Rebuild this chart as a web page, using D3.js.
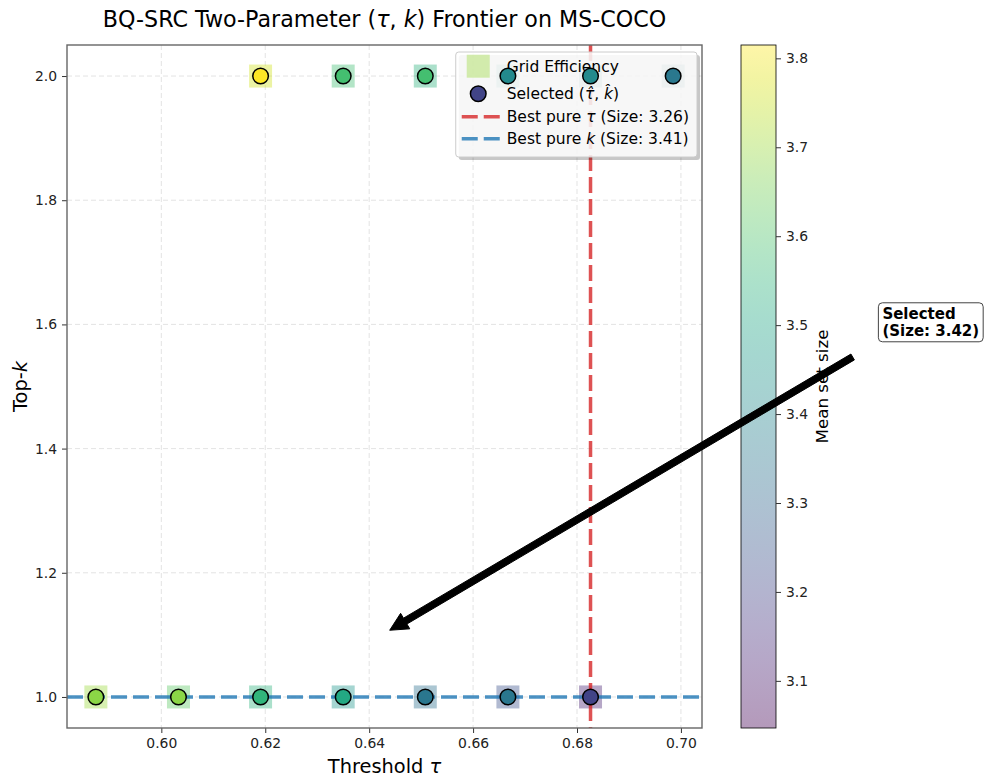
<!DOCTYPE html>
<html>
<head>
<meta charset="utf-8">
<script src="https://cdn.jsdelivr.net/npm/d3@7"></script>
<style>
  body { margin: 0; background: #fff; }
  text { font-family: "DejaVu Sans", sans-serif; }
</style>
</head>
<body>
<svg id="chart"></svg>
<script>
// (tau, k) grid evaluated on MS-COCO
const gridTau = [0.5874, 0.6033, 0.6191, 0.6350, 0.6508, 0.6667, 0.6826,
                 0.6191, 0.6350, 0.6508, 0.6667, 0.6826, 0.6985];
const gridK = [1, 1, 1, 1, 1, 1, 1,
               2, 2, 2, 2, 2, 2];
// mean set size behind each square (grid efficiency)
const gridSize = [3.70, 3.62, 3.54, 3.45, 3.33, 3.24, 3.12,
                  3.76, 3.58, 3.54, 3.45, 3.42, 3.37];
// mean set size of each evaluated point (circles)
const pointSize = [3.68, 3.68, 3.55, 3.51, 3.35, 3.35, 3.20,
                   3.815, 3.585, 3.585, 3.41, 3.41, 3.355];
const selectedIdx = 6;
const selectedSize = 3.42;
const bestPureTau = 0.6826, bestPureTauSize = 3.26;
const bestPureK = 1, bestPureKSize = 3.41;
const sizeRange = [3.047, 3.815];

const xTicks = [0.60, 0.62, 0.64, 0.66, 0.68, 0.70];
const yTicks = [1.0, 1.2, 1.4, 1.6, 1.8, 2.0];
const cbTicks = [3.1, 3.2, 3.3, 3.4, 3.5, 3.6, 3.7, 3.8];

// annotation: arrow target and text anchor, in data units
const annotTarget = [0.639, 1.083];
const annotAnchor = [0.738, 1.572];

const width = 986, height = 778;
const margin = {left: 67, right: 284, top: 45, bottom: 50};
const x0 = margin.left, x1 = width - margin.right;
const y0 = margin.top, y1 = height - margin.bottom;

const svg = d3.select("#chart")
    .attr("width", width)
    .attr("height", height);

// 5% padding like matplotlib autoscale
const tauExt = d3.extent(gridTau), kExt = d3.extent(gridK);
const tauPad = (tauExt[1] - tauExt[0]) * 0.05, kPad = (kExt[1] - kExt[0]) * 0.05;

const x = d3.scaleLinear()
    .domain([tauExt[0] - tauPad, tauExt[1] + tauPad])
    .range([x0, x1]);
const y = d3.scaleLinear()
    .domain([kExt[0] - kPad, kExt[1] + kPad])
    .range([y1, y0]);
const color = d3.scaleSequential(d3.interpolateViridis).domain(sizeRange);

const data = gridTau.map((t, i) => ({tau: t, k: gridK[i], size: gridSize[i], psize: pointSize[i]}));

// grid lines
const grid = svg.append("g").attr("class", "grid");
grid.selectAll("line.gx")
    .data(xTicks)
    .enter()
    .append("line")
    .attr("x1", d => x(d)).attr("x2", d => x(d))
    .attr("y1", y0).attr("y2", y1)
    .attr("stroke", "#b0b0b0").attr("stroke-opacity", 0.45)
    .attr("stroke-width", 0.8).attr("stroke-dasharray", "5,3");
grid.selectAll("line.gy")
    .data(yTicks)
    .enter()
    .append("line")
    .attr("x1", x0).attr("x2", x1)
    .attr("y1", d => y(d)).attr("y2", d => y(d))
    .attr("stroke", "#b0b0b0").attr("stroke-opacity", 0.45)
    .attr("stroke-width", 0.8).attr("stroke-dasharray", "5,3");

const plot = svg.append("g");

// squares (grid efficiency)
const sq = 23;
plot.append("g").attr("class", "squares")
    .selectAll("rect")
    .data(data)
    .enter()
    .append("rect")
    .attr("x", d => x(d.tau) - sq / 2)
    .attr("y", d => y(d.k) - sq / 2)
    .attr("width", sq).attr("height", sq)
    .attr("fill", d => color(d.size))
    .attr("fill-opacity", 0.4);

// best pure lines
plot.append("line")
    .attr("x1", x(bestPureTau)).attr("x2", x(bestPureTau))
    .attr("y1", y0).attr("y2", y1)
    .attr("stroke", "#d62728").attr("stroke-opacity", 0.8)
    .attr("stroke-width", 3.5).attr("stroke-dasharray", "16,6");
plot.append("line")
    .attr("x1", x0).attr("x2", x1)
    .attr("y1", y(bestPureK)).attr("y2", y(bestPureK))
    .attr("stroke", "#1f77b4").attr("stroke-opacity", 0.8)
    .attr("stroke-width", 3.5).attr("stroke-dasharray", "16,6");

// legend
const legFont = 15.5;
const legend = svg.append("g").attr("class", "legend");
const legItems = [
    {type: "square", parts: [["Grid Efficiency", false]]},
    {type: "dot", parts: [["Selected (", false], ["\u03c4\u0302", true], [", ", false], ["k\u0302", true], [")", false]]},
    {type: "red", parts: [["Best pure ", false], ["\u03c4", true], [" (Size: " + bestPureTauSize.toFixed(2) + ")", false]]},
    {type: "blue", parts: [["Best pure ", false], ["k", true], [" (Size: " + bestPureKSize.toFixed(2) + ")", false]]}
];
const rowY = [14.2, 41.8, 64.8, 86.8];
const legShadow = legend.append("rect");
const legBox = legend.append("rect");
const legInner = legend.append("g");
legItems.forEach((it, i) => {
    if (it.type === "square") {
        legInner.append("rect")
            .attr("x", 22.5 - sq / 2).attr("y", rowY[i] - sq / 2)
            .attr("width", sq).attr("height", sq)
            .attr("fill", color(gridSize[0])).attr("fill-opacity", 0.4);
    } else if (it.type === "dot") {
        legInner.append("circle")
            .attr("cx", 22.5).attr("cy", rowY[i]).attr("r", 7.8)
            .attr("fill", color(pointSize[selectedIdx]))
            .attr("stroke", "#000").attr("stroke-width", 1.5);
    } else {
        legInner.append("line")
            .attr("x1", 6).attr("x2", 44)
            .attr("y1", rowY[i]).attr("y2", rowY[i])
            .attr("stroke", it.type === "red" ? "#d62728" : "#1f77b4")
            .attr("stroke-opacity", 0.8)
            .attr("stroke-width", 3.5).attr("stroke-dasharray", "16,6");
    }
    const t = legInner.append("text")
        .attr("x", 51).attr("y", rowY[i] + 5.5)
        .attr("font-size", legFont).attr("fill", "#000");
    it.parts.forEach(p => {
        t.append("tspan").text(p[0]).attr("font-style", p[1] ? "italic" : null);
    });
});
let maxW = 0;
legInner.selectAll("text").each(function () { maxW = Math.max(maxW, this.getComputedTextLength()); });
const legW = 51 + maxW + 8, legH = 105;
const legX = x1 - 5 - legW, legY = y0 + 7;
legend.attr("transform", `translate(${legX},${legY})`);
legShadow.attr("x", 3).attr("y", 3).attr("width", legW).attr("height", legH)
    .attr("rx", 3).attr("fill", "#000").attr("fill-opacity", 0.22);
legBox.attr("width", legW).attr("height", legH).attr("rx", 3)
    .attr("fill", "#fff").attr("fill-opacity", 0.85)
    .attr("stroke", "#cccccc").attr("stroke-width", 1);

// circles
svg.append("g").attr("class", "dots")
    .selectAll("circle")
    .data(data)
    .enter()
    .append("circle")
    .attr("cx", d => x(d.tau))
    .attr("cy", d => y(d.k))
    .attr("r", 7.8)
    .attr("fill", d => color(d.psize))
    .attr("stroke", "#000")
    .attr("stroke-width", 1.5);

// axes
const xAxis = svg.append("g")
    .attr("transform", `translate(0,${y1})`)
    .call(d3.axisBottom(x).tickValues(xTicks).tickFormat(d3.format(".2f")).tickSize(5).tickPadding(5));
const yAxis = svg.append("g")
    .attr("transform", `translate(${x0},0)`)
    .call(d3.axisLeft(y).tickValues(yTicks).tickFormat(d3.format(".1f")).tickSize(5).tickPadding(5));
[xAxis, yAxis].forEach(a => {
    a.select(".domain").remove();
    a.selectAll("text").attr("font-size", 13.9).attr("fill", "#222").attr("font-family", "DejaVu Sans");
    a.selectAll("line").attr("stroke", "#333");
});

// spines
svg.append("rect")
    .attr("x", x0).attr("y", y0).attr("width", x1 - x0).attr("height", y1 - y0)
    .attr("fill", "none").attr("stroke", "#666").attr("stroke-width", 1.4);

// axis labels
const xl = svg.append("text")
    .attr("x", (x0 + x1) / 2).attr("y", 773)
    .attr("text-anchor", "middle").attr("font-size", 19.4);
xl.append("tspan").text("Threshold ");
xl.append("tspan").text("\u03c4").attr("font-style", "italic");

const yl = svg.append("text")
    .attr("transform", `translate(27,${(y0 + y1) / 2}) rotate(-90)`)
    .attr("text-anchor", "middle").attr("font-size", 19.4);
yl.append("tspan").text("Top-");
yl.append("tspan").text("k").attr("font-style", "italic");

// title
const title = svg.append("text")
    .attr("x", (x0 + x1) / 2).attr("y", 27)
    .attr("text-anchor", "middle").attr("font-size", 22.2);
title.append("tspan").text("BQ-SRC Two-Parameter (");
title.append("tspan").text("\u03c4").attr("font-style", "italic");
title.append("tspan").text(", ");
title.append("tspan").text("k").attr("font-style", "italic");
title.append("tspan").text(") Frontier on MS-COCO");

// colorbar
const cbX = 741, cbW = 35;
const cb = d3.scaleLinear().domain(sizeRange).range([y1, y0]);
const grad = svg.append("defs").append("linearGradient")
    .attr("id", "cbgrad").attr("x1", 0).attr("x2", 0).attr("y1", 1).attr("y2", 0);
d3.range(0, 1.0001, 0.05).forEach(t => {
    grad.append("stop").attr("offset", t)
        .attr("stop-color", d3.interpolateViridis(t)).attr("stop-opacity", 0.4);
});
svg.append("rect")
    .attr("x", cbX).attr("y", y0).attr("width", cbW).attr("height", y1 - y0)
    .attr("fill", "url(#cbgrad)").attr("stroke", "#000").attr("stroke-width", 0.8);
const cbAxis = svg.append("g")
    .attr("transform", `translate(${cbX + cbW},0)`)
    .call(d3.axisRight(cb).tickValues(cbTicks).tickFormat(d3.format(".1f")).tickSize(5).tickPadding(5));
cbAxis.select(".domain").remove();
cbAxis.selectAll("text").attr("font-size", 13.9).attr("fill", "#222").attr("font-family", "DejaVu Sans");
cbAxis.selectAll("line").attr("stroke", "#333");
svg.append("text")
    .attr("transform", `translate(828,${(y0 + y1) / 2}) rotate(-90)`)
    .attr("text-anchor", "middle").attr("font-size", 16.7)
    .text("Mean set size");

// annotation arrow (5% shrink at both ends)
const ax = x(annotTarget[0]), ay = y(annotTarget[1]);
const tx = x(annotAnchor[0]), ty = y(annotAnchor[1]);
const tip = [ax + 0.05 * (tx - ax), ay + 0.05 * (ty - ay)];
const tail = [tx - 0.05 * (tx - ax), ty - 0.05 * (ty - ay)];
const len = Math.hypot(tail[0] - tip[0], tail[1] - tip[1]);
const ux = (tip[0] - tail[0]) / len, uy = (tip[1] - tail[1]) / len;
const nx = -uy, ny = ux;
const sw = 3.4, hw = 9, hl = 18;
const neck = [tip[0] - ux * hl, tip[1] - uy * hl];
const arrowPts = [
    [tail[0] + nx * sw, tail[1] + ny * sw],
    [neck[0] + nx * sw, neck[1] + ny * sw],
    [neck[0] + nx * hw, neck[1] + ny * hw],
    tip,
    [neck[0] - nx * hw, neck[1] - ny * hw],
    [neck[0] - nx * sw, neck[1] - ny * sw],
    [tail[0] - nx * sw, tail[1] - ny * sw]
];
svg.append("polygon")
    .attr("points", arrowPts.map(p => p.join(",")).join(" "))
    .attr("fill", "#000").attr("stroke", "#000").attr("stroke-width", 1);

const annot = svg.append("g");
const annBox = annot.append("rect");
const annText = annot.append("text")
    .attr("font-size", 15).attr("font-weight", "bold");
annText.append("tspan").attr("x", tx + 4).attr("y", ty - 23).text("Selected");
annText.append("tspan").attr("x", tx + 4).attr("y", ty - 6).text("(Size: " + selectedSize.toFixed(2) + ")");
const bb = annText.node().getBBox();
annBox.attr("x", bb.x - 4).attr("y", bb.y - 2)
    .attr("width", bb.width + 8).attr("height", bb.height + 4)
    .attr("rx", 4).attr("fill", "#fff")
    .attr("stroke", "#444").attr("stroke-width", 1);
</script>
</body>
</html>
